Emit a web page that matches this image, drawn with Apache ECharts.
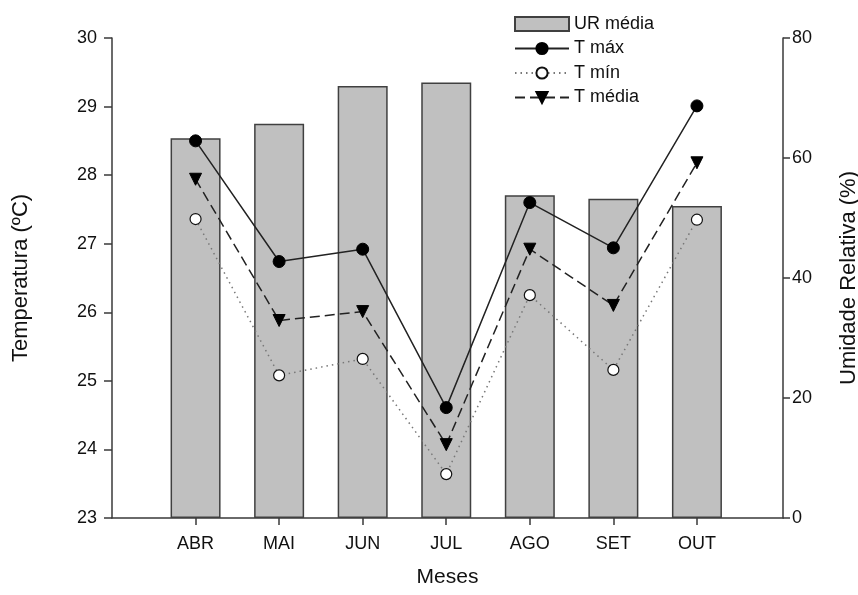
<!DOCTYPE html>
<html>
<head>
<meta charset="utf-8">
<script src="https://cdn.jsdelivr.net/npm/echarts@6/dist/echarts.min.js"></script>
<style>html,body{margin:0;padding:0;background:#fff;}#c{width:858px;height:595px;}</style>
</head>
<body>
<div id="c"></div>
<script>
const months = ['ABR', 'MAI', 'JUN', 'JUL', 'AGO', 'SET', 'OUT'];
const urMedia = [63.3, 65.7, 72.0, 72.6, 53.8, 53.2, 52.0];
const tMax = [28.50, 26.74, 26.92, 24.61, 27.60, 26.94, 29.01];
const tMin = [27.36, 25.08, 25.32, 23.64, 26.25, 25.16, 27.35];
const tMedia = [27.94, 25.88, 26.01, 24.07, 26.92, 26.10, 28.18];
const leftTicks = [23, 24, 25, 26, 27, 28, 29, 30];
const rightTicks = [0, 20, 40, 60, 80];

const pos = months.map((m, i) => i + 1);
const pair = arr => arr.map((v, i) => [pos[i], v]);
const font = '"Liberation Sans", Arial, sans-serif';
const axisCol = '#3a3a3a';

const chart = echarts.init(document.getElementById('c'), null, {renderer: 'canvas'});
chart.setOption({
  animation: false,
  backgroundColor: '#fff',
  textStyle: {fontFamily: font, color: '#111'},
  grid: {left: 112, right: 75, top: 38, bottom: 77, containLabel: false, outerBoundsMode: 'none'},
  legend: {
    orient: 'vertical', left: 509, top: 10, itemWidth: 54, itemHeight: 14,
    itemGap: 6.5, itemTextGap: 20,
    textStyle: {fontFamily: font, fontSize: 18, color: '#111'},
    data: [{name: 'UR média', icon: 'rect'}, 'T máx', 'T mín', 'T média']
  },
  xAxis: {
    type: 'value', min: 0, max: 8.03,
    name: 'Meses', nameLocation: 'middle', nameGap: 49,
    nameTextStyle: {fontFamily: font, fontSize: 21, color: '#111'},
    axisLine: {show: true, lineStyle: {color: axisCol, width: 1.5}},
    axisTick: {show: true, customValues: pos, length: 7, lineStyle: {color: axisCol, width: 1.5}},
    axisLabel: {customValues: pos, formatter: v => months[Math.round(v) - 1] || '', fontSize: 18, margin: 17, color: '#111', fontFamily: font},
    splitLine: {show: false}
  },
  yAxis: [
    {
      type: 'value', min: 23, max: 30, interval: 1, position: 'left',
      name: 'Temperatura (ºC)', nameLocation: 'middle', nameGap: 80,
      nameTextStyle: {fontFamily: font, fontSize: 22, color: '#111'},
      axisLine: {show: true, lineStyle: {color: axisCol, width: 1.5}},
      axisTick: {show: true, length: 8, lineStyle: {color: axisCol, width: 1.5}},
      axisLabel: {customValues: leftTicks, fontSize: 18, margin: 15, color: '#111', fontFamily: font},
      splitLine: {show: false}
    },
    {
      type: 'value', min: 0, max: 80, interval: 20, position: 'right',
      name: 'Umidade Relativa (%)', nameLocation: 'middle', nameGap: 55, nameRotate: 90,
      nameTextStyle: {fontFamily: font, fontSize: 22, color: '#111'},
      axisLine: {show: true, lineStyle: {color: axisCol, width: 1.5}},
      axisTick: {show: true, length: 7, lineStyle: {color: axisCol, width: 1.5}},
      axisLabel: {customValues: rightTicks, fontSize: 18, margin: 9, color: '#111', fontFamily: font},
      splitLine: {show: false}
    }
  ],
  series: [
    {
      name: 'UR média', type: 'bar', yAxisIndex: 1, barWidth: 50, z: 1,
      itemStyle: {color: '#c0c0c0', borderColor: '#404040', borderWidth: 1.5},
      data: pair(urMedia)
    },
    {
      name: 'T máx', type: 'line', yAxisIndex: 0, z: 5,
      symbol: 'circle', symbolSize: 12,
      lineStyle: {color: '#222', width: 1.5, type: 'solid'},
      itemStyle: {color: '#000', borderColor: '#000', borderWidth: 1},
      data: pair(tMax)
    },
    {
      name: 'T mín', type: 'line', yAxisIndex: 0, z: 4,
      symbol: 'circle', symbolSize: 11,
      lineStyle: {color: '#777', width: 1.5, type: [1.5, 4]},
      itemStyle: {color: '#fff', borderColor: '#111', borderWidth: 1.2},
      data: pair(tMin)
    },
    {
      name: 'T média', type: 'line', yAxisIndex: 0, z: 4,
      symbol: 'triangle', symbolSize: 12, symbolRotate: 180,
      lineStyle: {color: '#222', width: 1.5, type: [10, 5]},
      itemStyle: {color: '#000', borderColor: '#000', borderWidth: 1},
      data: pair(tMedia)
    }
  ]
});
</script>
</body>
</html>
